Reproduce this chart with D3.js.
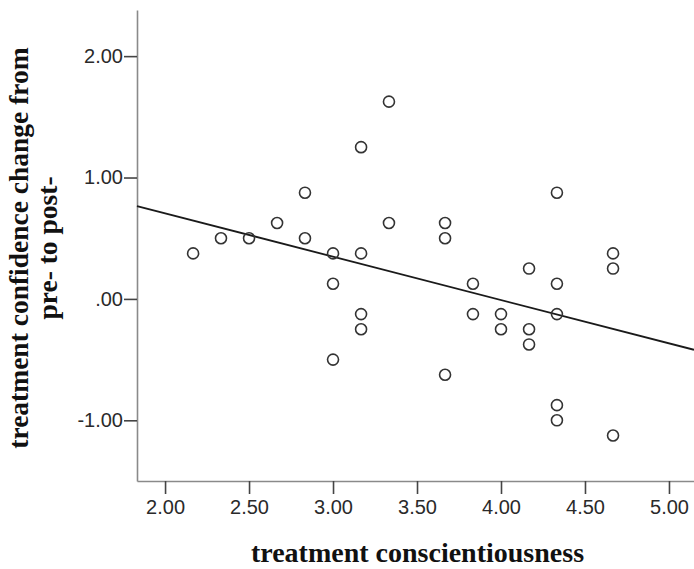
<!DOCTYPE html>
<html>
<head>
<meta charset="utf-8">
<script src="https://cdn.jsdelivr.net/npm/d3@7"></script>
<style>
  body { margin: 0; background: #fff; }
  svg { display: block; }
</style>
</head>
<body>
<div id="the_chart"></div>
<script>
// x = treatment conscientiousness, y = confidence change (pre- to post-)
var xValues = [2.167, 2.333, 2.5, 2.667, 2.833, 2.833,
  3.0, 3.0, 3.0, 3.167, 3.167, 3.167, 3.167, 3.333, 3.333,
  3.667, 3.667, 3.667, 3.833, 3.833, 4.0, 4.0,
  4.167, 4.167, 4.167, 4.333, 4.333, 4.333, 4.333, 4.333,
  4.667, 4.667, 4.667];
var yValues = [0.375, 0.5, 0.5, 0.625, 0.875, 0.5,
  0.375, 0.125, -0.5, 1.25, 0.375, -0.125, -0.25, 1.625, 0.625,
  0.625, 0.5, -0.625, 0.125, -0.125, -0.125, -0.25,
  0.25, -0.25, -0.375, 0.875, 0.125, -0.125, -0.875, -1.0,
  0.375, 0.25, -1.125];

var xTicks = [2.0, 2.5, 3.0, 3.5, 4.0, 4.5, 5.0];
var yTicks = [2.0, 1.0, 0.0, -1.0];

// fit line
var fitIntercept = 1.419;
var fitSlope = -0.357;

var dataset = xValues.map(function (x, i) { return { x: x, y: yValues[i] }; });

var w = 694;
var h = 569;
var padL = 137, padT = 10, padR = 694, padB = 481;

var svg = d3.select("#the_chart")
  .append("svg")
  .attr("width", w)
  .attr("height", h);

var xscale = d3.scaleLinear()
  .domain([1.833, 5.149])
  .range([padL, padR]);

var yscale = d3.scaleLinear()
  .domain([-1.5, 2.38])
  .range([padB, padT]);

// SPSS style: ".00", "-1.00" with a plain hyphen
var fmt = function (d) {
  var s = d3.format(".2f")(d).replace("\u2212", "-");
  return s.replace(/^0\./, ".").replace(/^-0\./, "-.");
};

var xaxis = d3.axisBottom()
  .scale(xscale)
  .tickValues(xTicks)
  .tickFormat(fmt)
  .tickSize(13)
  .tickSizeOuter(0)
  .tickPadding(6);

var yaxis = d3.axisLeft()
  .scale(yscale)
  .tickValues(yTicks)
  .tickFormat(fmt)
  .tickSize(13)
  .tickSizeOuter(0)
  .tickPadding(1);

var gX = svg.append("g")
  .attr("class", "x axis")
  .attr("transform", "translate(0," + padB + ")")
  .call(xaxis);

var gY = svg.append("g")
  .attr("class", "y axis")
  .attr("transform", "translate(" + padL + ",0)")
  .call(yaxis);

[gX, gY].forEach(function (g) {
  g.select(".domain").attr("stroke", "#8a8a8a").attr("stroke-width", 1.6);
  g.selectAll(".tick line").attr("stroke", "#444").attr("stroke-width", 1.6);
  g.selectAll(".tick text")
    .attr("fill", "#2a2a2a")
    .style("font-family", "'Liberation Sans', Arial, sans-serif")
    .style("font-size", "20px");
});

// regression line
svg.append("line")
  .attr("x1", xscale(1.833))
  .attr("y1", yscale(fitIntercept + fitSlope * 1.833))
  .attr("x2", xscale(5.149))
  .attr("y2", yscale(fitIntercept + fitSlope * 5.149))
  .attr("stroke", "#1a1a1a")
  .attr("stroke-width", 1.8);

svg.selectAll("circle")
  .data(dataset)
  .enter().append("circle")
  .attr("r", 5.5)
  .attr("fill", "none")
  .attr("stroke", "#333")
  .attr("stroke-width", 1.6)
  .attr("cx", function (d) { return xscale(d.x); })
  .attr("cy", function (d) { return yscale(d.y); });

// axis titles
svg.append("text")
  .attr("x", (padL + padR) / 2 + 2)
  .attr("y", 562)
  .attr("text-anchor", "middle")
  .style("font-family", "'Liberation Serif', 'Times New Roman', serif")
  .style("font-weight", "bold")
  .style("font-size", "28px")
  .attr("fill", "#111")
  .text("treatment conscientiousness");

var ytitle = svg.append("text")
  .attr("transform", "translate(0,248) rotate(-90)")
  .attr("text-anchor", "middle")
  .style("font-family", "'Liberation Serif', 'Times New Roman', serif")
  .style("font-weight", "bold")
  .style("font-size", "27.5px")
  .attr("fill", "#111");

ytitle.append("tspan").attr("x", 0).attr("y", 28).text("treatment confidence change from");
ytitle.append("tspan").attr("x", 0).attr("y", 57).text("pre- to post-");
</script>
</body>
</html>
